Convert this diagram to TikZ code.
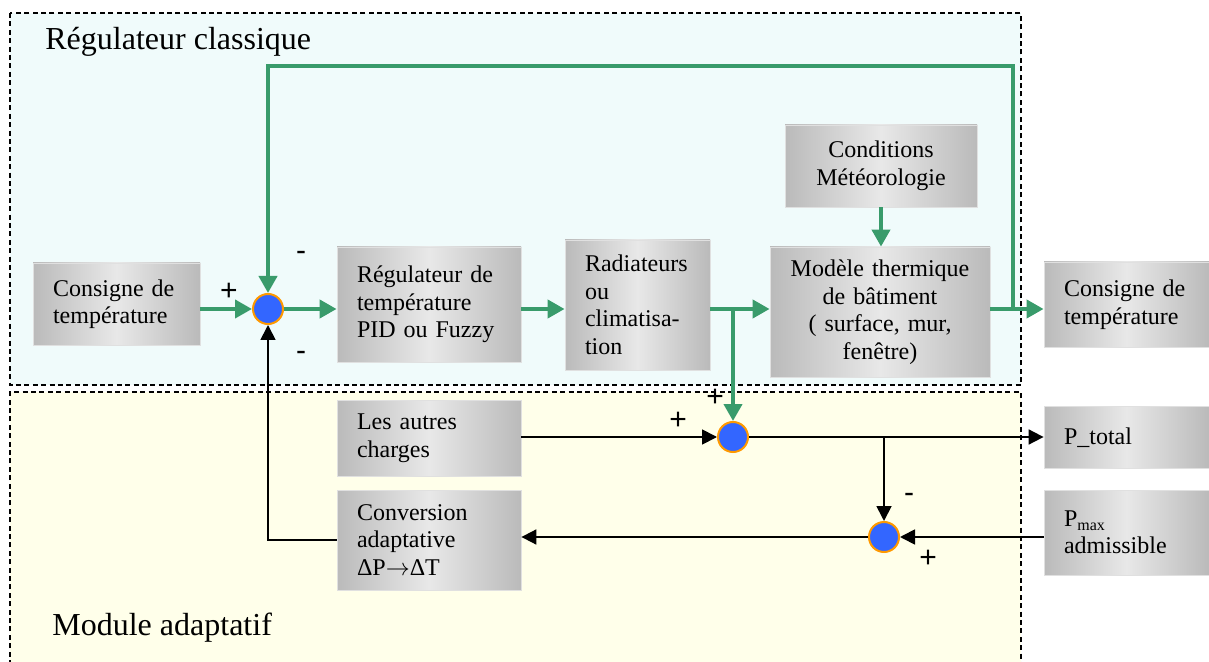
\documentclass[tikz,border=0pt]{standalone}
\usepackage{fontspec}
\setmainfont{Liberation Serif}
\newfontfamily\signfont{Liberation Sans}
\usetikzlibrary{arrows.meta}

\definecolor{flowgreen}{RGB}{57,155,107}
\definecolor{sumblue}{RGB}{51,102,255}
\definecolor{sumring}{RGB}{255,153,0}
\definecolor{zonecyan}{RGB}{240,251,251}
\definecolor{zoneyellow}{RGB}{255,255,234}

\def\signs{{(229,292)/+}, {(301,256)/-}, {(301,356)/-}, {(715,398)/+}, {(678,421)/+}, {(909,498)/-}, {(928,559)/+}}
\tikzstyle{block}=[rectangle, left color=black!27, right color=black!27, middle color=black!9, draw=black!12, line width=0.4pt, inner xsep=10pt, inner ysep=2pt, font=\fontsize{12pt}{13.75pt}\selectfont]
\tikzstyle{lblock}=[block, align=left]
\tikzstyle{cblock}=[block, align=center]
\tikzstyle{sum}=[circle, fill=sumblue, draw=sumring, line width=1pt, minimum size=15pt, inner sep=0pt]
\tikzstyle{flow}=[draw, line width=2pt, flowgreen, -{Triangle[length=8.5pt,width=9pt]}]
\tikzstyle{signal}=[draw, line width=0.9pt, -{Triangle[length=7.5pt,width=7.5pt]}]
\tikzstyle{sign}=[font=\signfont\fontsize{15pt}{17pt}\selectfont, inner sep=0pt]
\tikzstyle{zone}=[draw, line width=0.8pt, dash pattern=on 2.5pt off 1.7pt]
\tikzstyle{zone label}=[font=\fontsize{16pt}{18pt}\selectfont, anchor=west, inner sep=0pt]

\begin{document}
\begin{tikzpicture}[x=0.5pt, y=-0.5pt]
  \useasboundingbox (0,0) rectangle (1209,662);

  % The two zones behind everything
  \fill[zonecyan] (10,13) rectangle (1021,385);
  \fill[zoneyellow] (10,392) rectangle (1021,662);
  \path[zone] (10,13) rectangle (1021,385);
  \path[zone] (10,665) -- (10,392) -- (1021,392) -- (1021,665);
  \node[zone label] (classic) at (45,42) {Régulateur classique};
  \node[zone label] (adaptive) at (52,628) {Module adaptatif};

  % First we draw the blocks
  \node[lblock, text width=63.5pt, minimum height=41pt] (cons) at (116.5,304) {Consigne de\\température};
  \node[lblock, text width=72pt, minimum height=57.5pt] (reg) at (429,304.5) {Régulateur de\\température\\PID ou Fuzzy};
  \node[lblock, text width=52.5pt, minimum height=65pt] (rad) at (637.5,305) {Radiateurs\\ou\\climatisa-\\tion};
  \node[cblock, inner xsep=8pt, text width=94pt, minimum height=65pt] (mod) at (880,312) {Modèle thermique\\de bâtiment\\( surface, mur,\\fenêtre)};
  \node[cblock, text width=76pt, minimum height=41pt] (met) at (881,166) {Conditions\\Météorologie};
  \node[lblock, text width=62.5pt, minimum height=42.5pt] (out) at (1126.5,304.5) {Consigne de\\température};
  \node[lblock, text width=72pt, minimum height=38pt] (loads) at (429,438) {Les autres\\charges};
  \node[lblock, text width=62.5pt, minimum height=31pt] (ptot) at (1126.5,437.5) {P\_total};
  \node[lblock, text width=62.5pt, minimum height=42.5pt] (pmax) at (1126.5,532.5) {P\textsubscript{max}\\admissible};
  \node[lblock, text width=72pt, minimum height=50pt] (conv) at (429,540) {Conversion\\adaptative\\ΔP$\rightarrow$ΔT};

  % Summing points
  \node[sum] (sum1) at (268,309) {};
  \node[sum] (sum2) at (733,437) {};
  \node[sum] (sum3) at (884,537) {};

  \foreach \pos/\s [count=\i] in \signs
    \node[sign] (sign\i) at \pos {\s};

  % Green loop of the classic regulator
  \coordinate (split) at (733,309);
  \coordinate (back) at (1013,309);
  \coordinate (over) at (1013,66);
  \path[flow] (cons.east |- sum1) -- (sum1);
  \path[flow] (sum1) -- (reg.west |- sum1);
  \path[flow] (reg.east |- sum1) -- (rad.west |- sum1);
  \path[flow] (rad.east |- sum1) -- (mod.west |- sum1);
  \path[flow] (mod.east |- sum1) -- (out.west |- sum1);
  \path[flow] (met) -- (met |- mod.north);
  \path[flow] (split) -- (sum2);
  \path[flow] (back) -- (over) -| (sum1);

  % Power signals of the adaptive module
  \coordinate (tap) at (sum3 |- sum2);
  \path[signal] (loads.east |- sum2) -- (sum2);
  \path[signal] (sum2) -- (ptot.west |- sum2);
  \path[signal] (tap) -- (sum3);
  \path[signal] (pmax.west |- sum3) -- (sum3);
  \path[signal] (sum3) -- (conv.east |- sum3);
  \path[signal] (conv.west) -| (sum1);
\end{tikzpicture}
\end{document}
